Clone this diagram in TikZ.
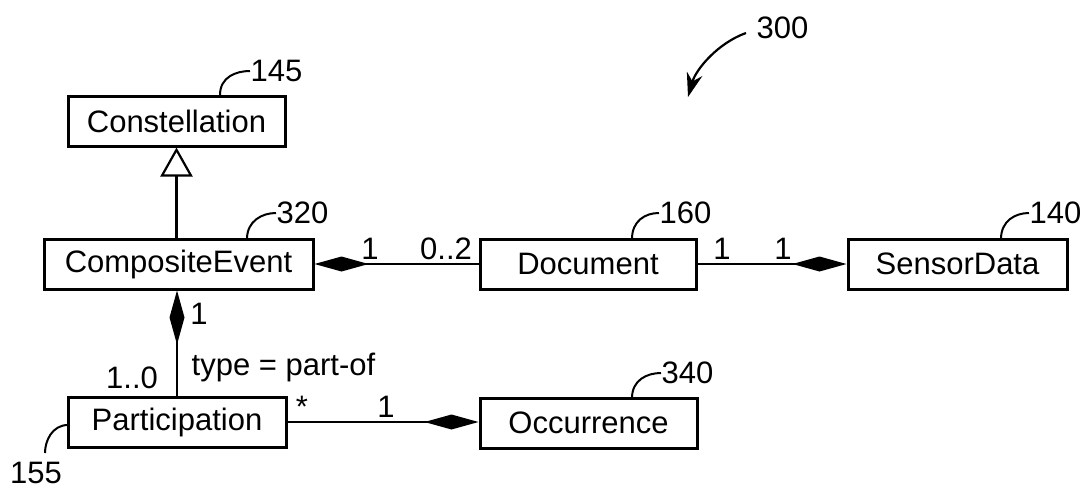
\documentclass[tikz,border=0pt]{standalone}
\usepackage{fontspec}
\setmainfont{Liberation Sans}
\usetikzlibrary{arrows.meta}
\begin{document}
\begin{tikzpicture}[x=1pt,y=-1pt,
  fnt/.style={font=\fontsize{31}{36}\selectfont},
  box/.style={draw, line width=3pt, minimum height=50pt, inner sep=0pt, fnt},
  lbl/.style={inner sep=0.5pt, fnt},
  conn/.style={line width=2.2pt},
  lead/.style={line width=2pt},
  dia/.style={{Diamond[length=54pt,width=15pt]}-},
  gen/.style={-{Triangle[open,length=29pt,width=32pt,fill=white]}}
]
\useasboundingbox (0,0) rectangle (1089,490);
% boxes
\node[box, minimum width=217pt] (con) at (176.5,121) {Constellation};
\node[box, minimum width=269pt] (ce) at (178.5,264) {CompositeEvent};
\node[box, minimum width=216pt] (doc) at (588,264) {Document};
\node[box, minimum width=219pt] (sen) at (957.5,264) {SensorData};
\node[box, minimum width=218pt] (par) at (177,422) {Participation};
\node[box, minimum width=217pt] (occ) at (588.5,423) {Occurrence};
% connectors
\draw[conn, gen] (ce.north -| con.south) -- (con.south);
\draw[conn, dia] (ce.east) -- (doc.west);
\draw[conn, dia] (sen.west) -- (doc.east);
\draw[conn, dia] (ce.south -| par.north) -- (par.north);
\draw[conn, dia] (occ.west |- par.east) -- (par.east);
% multiplicities
\node[lbl] (m1) at (370,249) {1};
\node[lbl] (m2) at (446,249) {0..2};
\node[lbl] (m3) at (722,249) {1};
\node[lbl] (m4) at (783,249) {1};
\node[lbl] (m5) at (199,314) {1};
\node[lbl, anchor=base west] (m6) at (191,375) {type = part-of};
\node[lbl] (m7) at (132,378) {1..0};
\node[lbl] (m8) at (302,407) {*};
\node[lbl] (m9) at (386,407) {1};
% reference numerals
\node[lbl, anchor=west] (t145) at (250,71) {145};
\coordinate (c145) at (220,95);
\draw[lead] (c145) .. controls +(0,-18) and +(-14,0) .. (t145.west);
\node[lbl, anchor=west] (t320) at (276,213) {320};
\coordinate (c320) at (247,239);
\draw[lead] (c320) .. controls +(0,-18) and +(-14,0) .. (t320.west);
\node[lbl, anchor=west] (t160) at (659,213) {160};
\coordinate (c160) at (632,239);
\draw[lead] (c160) .. controls +(0,-18) and +(-14,0) .. (t160.west);
\node[lbl, anchor=west] (t140) at (1029,213) {140};
\coordinate (c140) at (1001,239);
\draw[lead] (c140) .. controls +(0,-18) and +(-14,0) .. (t140.west);
\node[lbl, anchor=west] (t340) at (661,373) {340};
\coordinate (c340) at (632,398);
\draw[lead] (c340) .. controls +(0,-18) and +(-14,0) .. (t340.west);
\node[lbl] (t155) at (36,473) {155};
\coordinate (c155) at (68,425);
\coordinate (e155) at (45,453);
\draw[lead] (c155) .. controls +(-16,0) and +(0,-12) .. (e155);
\node[lbl, anchor=west] (t300) at (756,28) {300};
\coordinate (tip300) at (688,97);
\draw[conn, -{Stealth[length=24pt,width=16pt]}] ([xshift=-10pt,yshift=-5pt]t300.west) .. controls +(-28,10) and +(8,-28) .. (tip300);
\end{tikzpicture}
\end{document}
